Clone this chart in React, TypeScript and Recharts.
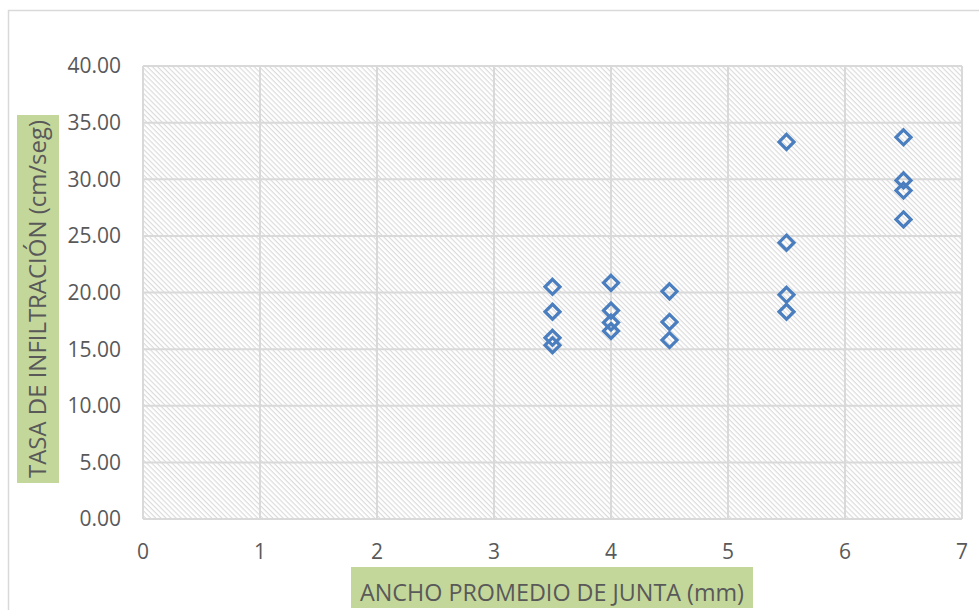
import React from "react";
import { ScatterChart, Scatter, XAxis, YAxis, CartesianGrid } from "recharts";

const xValues = [3.5, 3.5, 3.5, 3.5, 4, 4, 4, 4, 4.5, 4.5, 4.5, 5.5, 5.5, 5.5, 5.5, 6.5, 6.5, 6.5, 6.5];
const yValues = [20.5, 18.3, 16.0, 15.35, 20.85, 18.4, 17.35, 16.6, 20.1, 17.4, 15.8, 33.3, 24.4, 19.8, 18.3, 33.7, 29.9, 29.0, 26.45];
const xTicks = [0, 1, 2, 3, 4, 5, 6, 7];
const yTicks = [0, 5, 10, 15, 20, 25, 30, 35, 40];
const xTitle = "ANCHO PROMEDIO DE JUNTA (mm)";
const yTitle = "TASA DE INFILTRACIÓN (cm/seg)";

const data = xValues.map((x, i) => ({ x, y: yValues[i] }));

const FONT = "'Open Sans', 'Noto Sans', sans-serif";

const Diamond = (props: any) => {
  const { cx, cy } = props;
  const r = 7.5;
  return (
    <path
      d={`M${cx},${cy - r} L${cx + r},${cy} L${cx},${cy + r} L${cx - r},${cy} Z`}
      fill="none"
      stroke="#4a7ebf"
      strokeWidth={3.2}
      strokeLinejoin="miter"
    />
  );
};

export default function App() {
  return (
    <div style={{ position: "absolute", left: 0, top: 0, width: 979, height: 610, background: "#fff", overflow: "hidden" }}>
      <svg width={0} height={0} style={{ position: "absolute" }}>
        <defs>
          <pattern id="hatch" width="3.6" height="3.6" patternUnits="userSpaceOnUse" patternTransform="rotate(45)">
            <rect width="3.6" height="3.6" fill="#ffffff" />
            <line x1="0" y1="0.6" x2="3.6" y2="0.6" stroke="#d9d9d9" strokeWidth="1.1" />
          </pattern>
        </defs>
      </svg>
      <ScatterChart
        width={979}
        height={610}
        margin={{ top: 66, right: 17, bottom: 61, left: 83 }}
        style={{ fontFamily: FONT }}
      >
        <CartesianGrid
          stroke="#d9d9d9"
          strokeWidth={2}
          fill="url(#hatch)"
          fillOpacity={1}
          horizontalValues={yTicks}
          verticalValues={xTicks}
        />
        <XAxis
          type="number"
          dataKey="x"
          domain={[0, 7]}
          ticks={xTicks}
          height={30}
          axisLine={false}
          tickLine={false}
          tickSize={0}
          tickMargin={25}
          tick={{ fill: "#595959", fontSize: 21, fontFamily: FONT }}
          interval={0}
        />
        <YAxis
          type="number"
          dataKey="y"
          domain={[0, 40]}
          ticks={yTicks}
          width={60}
          axisLine={false}
          tickLine={false}
          tickSize={0}
          tickMargin={22}
          tickFormatter={(v: number) => v.toFixed(2)}
          tick={{ fill: "#595959", fontSize: 21, fontFamily: FONT }}
          interval={0}
        />
        <Scatter data={data} shape={<Diamond />} isAnimationActive={false} />
      </ScatterChart>
      <svg width={979} height={610} style={{ position: "absolute", left: 0, top: 0, pointerEvents: "none" }}>
        <line x1={8} y1={10.5} x2={979} y2={10.5} stroke="#d9d9d9" strokeWidth={1.5} />
        <line x1={8.5} y1={10} x2={8.5} y2={610} stroke="#d9d9d9" strokeWidth={1.5} />
        <rect x={351} y={567} width={402} height={41} fill="#c4d79b" />
        <text
          x={552}
          y={601}
          textAnchor="middle"
          fontFamily={FONT}
          fontSize={24}
          fill="#595959"
          textLength={384}
          lengthAdjust="spacingAndGlyphs"
        >
          {xTitle}
        </text>
        <rect x={17} y={115} width={42} height={368} fill="#c4d79b" />
        <text
          transform="translate(46,299) rotate(-90)"
          x={0}
          y={0}
          textAnchor="middle"
          fontFamily={FONT}
          fontSize={24}
          fill="#595959"
          textLength={358}
          lengthAdjust="spacingAndGlyphs"
        >
          {yTitle}
        </text>
      </svg>
    </div>
  );
}
